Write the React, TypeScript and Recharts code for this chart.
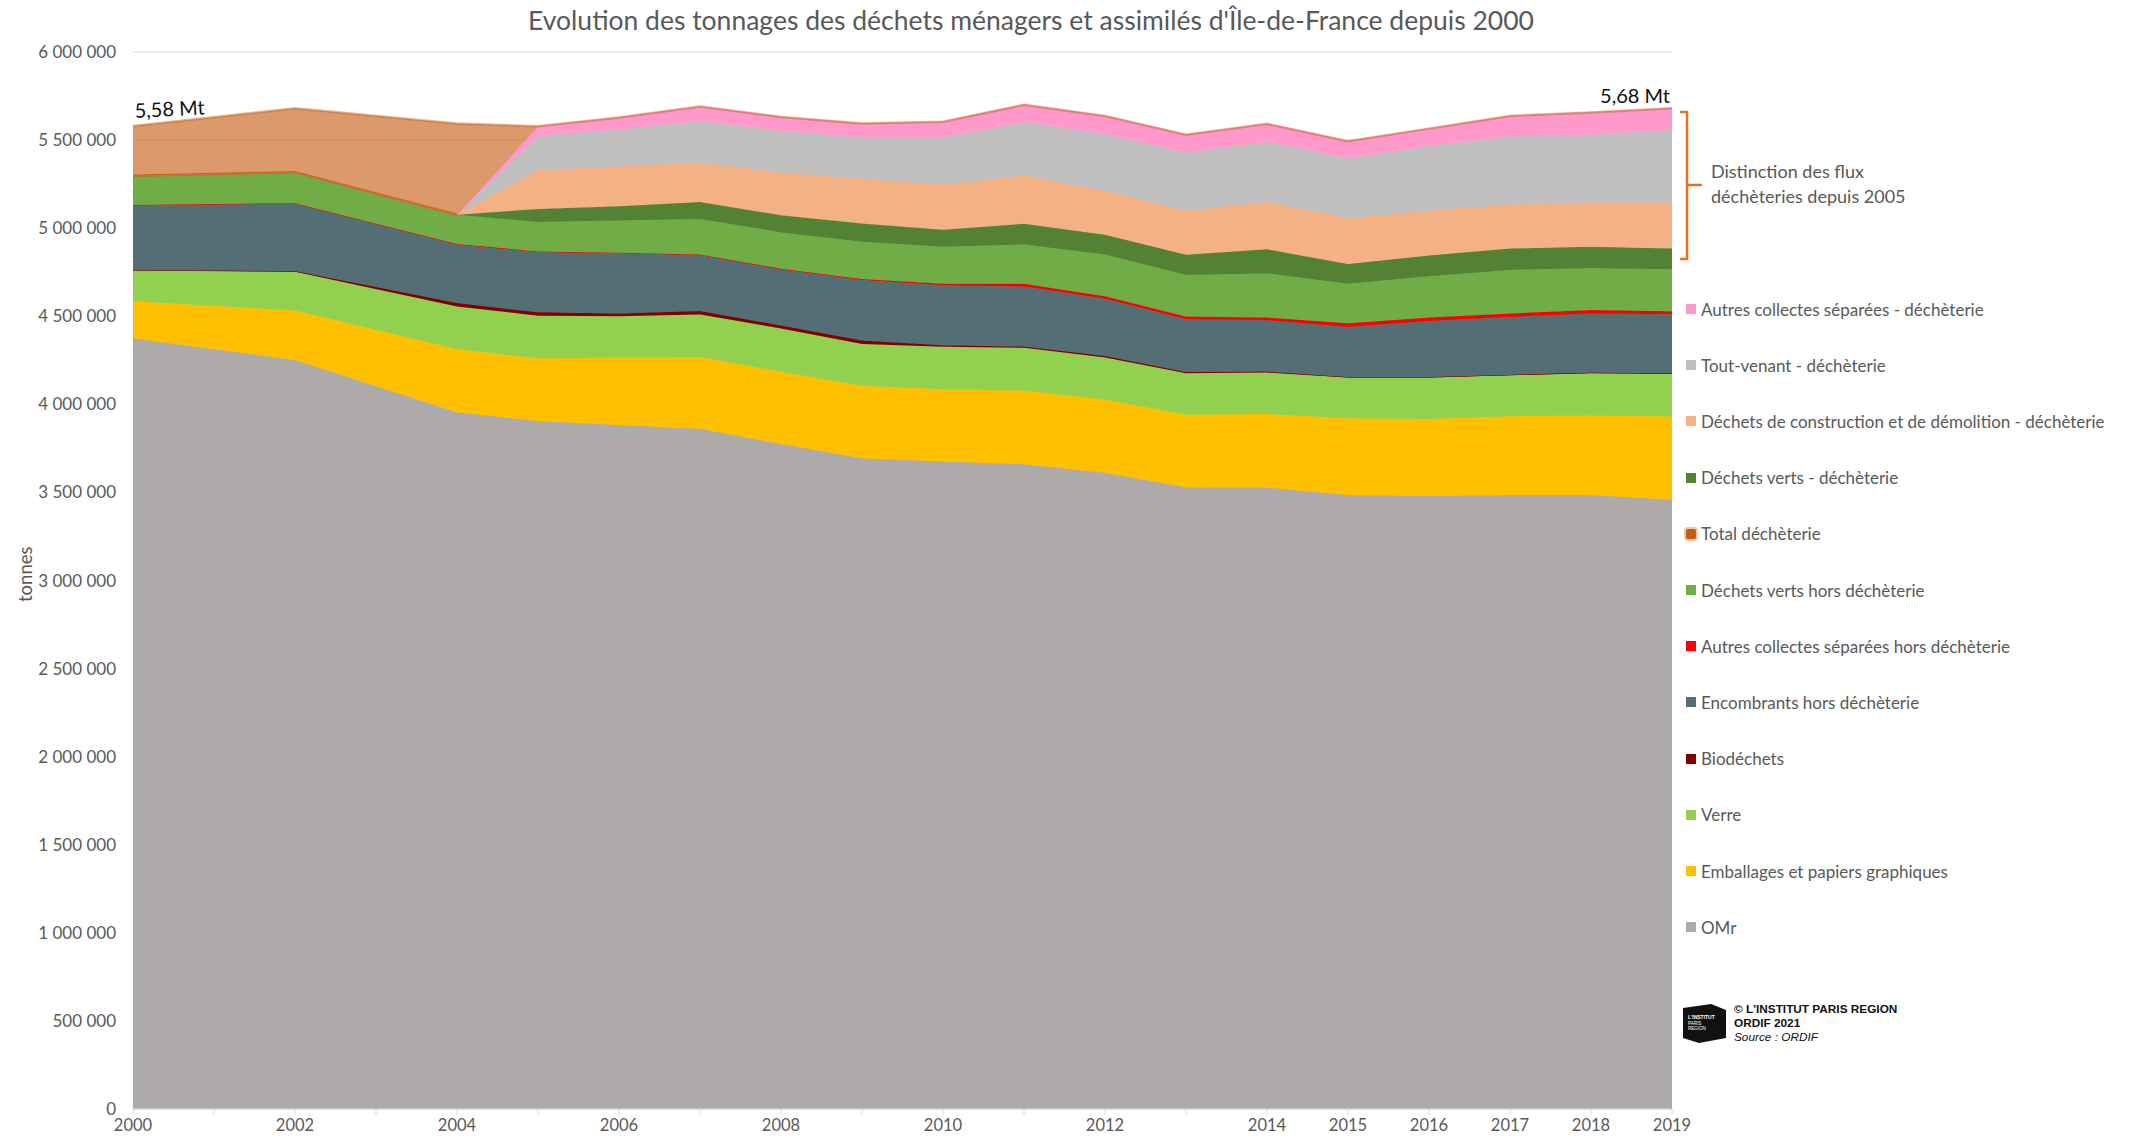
import React from 'react';
import { ComposedChart, Area, Line, XAxis, YAxis, CartesianGrid, LabelList } from 'recharts';

// années présentes dans la série (2001 et 2003 absentes)
const years = [2000, 2002, 2004, 2005, 2006, 2007, 2008, 2009, 2010, 2011, 2012, 2013, 2014, 2015, 2016, 2017, 2018, 2019];

// tonnages (t)
const omr = [4375000, 4252000, 3955000, 3906000, 3882000, 3862000, 3775000, 3694000, 3675000, 3660000, 3612000, 3530000, 3528000, 3485000, 3480000, 3485000, 3485000, 3459000];
const emballages = [210000, 280000, 358000, 355000, 382000, 406000, 410000, 411000, 410000, 418000, 415000, 411000, 417000, 436000, 437000, 448000, 452000, 472000];
const verre = [175000, 220000, 242000, 242000, 236000, 242000, 245000, 237000, 242000, 243000, 239000, 235000, 235000, 231000, 235000, 232000, 240000, 242000];
const biodechets = [3000, 5000, 20000, 19000, 16000, 20000, 18000, 20000, 9000, 7000, 8000, 8000, 6000, 3000, 3000, 3000, 3000, 3000];
const encombrants = [367000, 383000, 332000, 343000, 342000, 317000, 317000, 344000, 340000, 341000, 326000, 299000, 291000, 284000, 318000, 328000, 336000, 336000];
const autresHors = [2000, 2000, 3000, 3000, 3000, 4000, 5000, 6000, 9000, 16000, 14000, 16000, 16000, 21000, 20000, 20000, 20000, 16000];
const vertsHors = [166000, 176000, 166000, 167000, 183000, 201000, 206000, 211000, 209000, 222000, 237000, 235000, 250000, 225000, 234000, 247000, 237000, 239000];
const vertsDech = [0, 0, 0, 74000, 81000, 96000, 98000, 104000, 97000, 118000, 111000, 115000, 137000, 111000, 118000, 121000, 121000, 117000];
const constructionDech = [0, 0, 0, 221000, 225000, 225000, 241000, 253000, 255000, 274000, 249000, 250000, 268000, 260000, 254000, 251000, 251000, 261000];
const toutVenantDech = [0, 0, 0, 194000, 209000, 235000, 238000, 234000, 268000, 303000, 323000, 329000, 343000, 341000, 368000, 385000, 385000, 414000];
const autresDech = [0, 0, 0, 54000, 69000, 82000, 78000, 80000, 90000, 98000, 103000, 102000, 101000, 97000, 98000, 117000, 127000, 121000];
const totalDech = [282000, 362000, 518000, 0, 0, 0, 0, 0, 0, 0, 0, 0, 0, 0, 0, 0, 0, 0];

const xTicks = [2000, 2001, 2002, 2003, 2004, 2005, 2006, 2007, 2008, 2009, 2010, 2011, 2012, 2013, 2014, 2015, 2016, 2017, 2018, 2019];
const xLabels = [2000, 2002, 2004, 2006, 2008, 2010, 2012, 2014, 2015, 2016, 2017, 2018, 2019];
const yTicks = [0, 500000, 1000000, 1500000, 2000000, 2500000, 3000000, 3500000, 4000000, 4500000, 5000000, 5500000, 6000000];

// ordre d'empilement, du bas vers le haut
const series = [
  { key: 'omr', name: 'OMr', color: '#AEAAAA', values: omr },
  { key: 'emballages', name: 'Emballages et papiers graphiques', color: '#FFC000', values: emballages },
  { key: 'verre', name: 'Verre', color: '#92D050', values: verre },
  { key: 'biodechets', name: 'Biodéchets', color: '#800000', values: biodechets },
  { key: 'encombrants', name: 'Encombrants hors déchèterie', color: '#546E76', values: encombrants },
  { key: 'autresHors', name: 'Autres collectes séparées hors déchèterie', color: '#FF0000', values: autresHors },
  { key: 'vertsHors', name: 'Déchets verts hors déchèterie', color: '#70AD47', values: vertsHors },
  { key: 'vertsDech', name: 'Déchets verts - déchèterie', color: '#548235', values: vertsDech },
  { key: 'constructionDech', name: 'Déchets de construction et de démolition - déchèterie', color: '#F4B183', values: constructionDech },
  { key: 'toutVenantDech', name: 'Tout-venant - déchèterie', color: '#BFBFBF', values: toutVenantDech },
  { key: 'autresDech', name: 'Autres collectes séparées - déchèterie', color: '#FF99CC', values: autresDech },
];
const totalSeries = { key: 'totalDech', name: 'Total déchèterie', color: '#C55A11', values: totalDech };

const legendOrder = ['autresDech', 'toutVenantDech', 'constructionDech', 'vertsDech', 'totalDech', 'vertsHors', 'autresHors', 'encombrants', 'biodechets', 'verre', 'emballages', 'omr'];

const data = years.map((year, i) => {
  const row: Record<string, number | null> = { year };
  let sum = 0;
  series.forEach((s) => {
    row[s.key] = s.values[i];
    sum += s.values[i];
  });
  row.totalDech = totalDech[i];
  row.total = sum + totalDech[i];
  // bord inférieur de la zone "Total déchèterie" (avant la distinction des flux)
  row.totalBase = totalDech[i] > 0 ? sum : null;
  return row;
});

const fmt = (v: number) => String(v).replace(/\B(?=(\d{3})+(?!\d))/g, ' ');
const mt = (v: number) => (v / 1000000).toFixed(2).replace('.', ',') + ' Mt';

const font = 'Lato, "Open Sans", sans-serif';
const grey = '#595959';

const TotalLabel = (props: any) => {
  const vb = props.viewBox || {};
  const x = vb.x ?? props.x;
  const y = vb.y ?? props.y;
  const i = props.index;
  if (i === 0) {
    return (
      <text x={x + 2} y={y - 8} fontSize={20} fill="#111" fontFamily={font} transform={`rotate(-3 ${x + 2} ${y - 8})`}>
        {mt(data[0].total as number)}
      </text>
    );
  }
  if (i === data.length - 1) {
    return (
      <text x={x - 2} y={y - 5} fontSize={20} fill="#111" fontFamily={font} textAnchor="end">
        {mt(data[i].total as number)}
      </text>
    );
  }
  return null;
};

export default function App() {
  const allSeries = [...series, totalSeries];
  return (
    <div style={{ position: 'absolute', left: 0, top: 0, width: 2134, height: 1140, background: '#fff', fontFamily: font }}>
      <div style={{ position: 'absolute', left: 0, top: 4, width: 2062, textAlign: 'center', fontSize: 26.5, color: grey }}>
        Evolution des tonnages des déchets ménagers et assimilés d'Île-de-France depuis 2000
      </div>
      <div style={{ position: 'absolute', left: 0, top: 566, width: 50, textAlign: 'center', fontSize: 18.5, color: grey, transform: 'rotate(-90deg)' }}>
        tonnes
      </div>

      <ComposedChart width={2134} height={1140} data={data} margin={{ top: 52, right: 462, left: 33, bottom: 0 }}>
        <CartesianGrid vertical={false} stroke="#D9D9D9" />
        <XAxis
          dataKey="year"
          type="number"
          domain={[2000, 2019]}
          ticks={xTicks}
          interval={0}
          tickFormatter={(v: number) => (xLabels.includes(v) ? String(v) : '')}
          height={31}
          tickSize={6}
          tickMargin={4}
          stroke="#D9D9D9"
          tick={{ fill: grey, fontSize: 16.5, fontFamily: font }}
        />
        <YAxis
          type="number"
          domain={[0, 6000000]}
          ticks={yTicks}
          interval={0}
          width={100}
          axisLine={false}
          tickLine={false}
          tickSize={6}
          tickMargin={11}
          tickFormatter={fmt}
          tick={{ fill: grey, fontSize: 17, fontFamily: font }}
        />
        {series.map((s) => (
          <Area
            key={s.key}
            type="linear"
            dataKey={s.key}
            name={s.name}
            stackId="1"
            fill={s.color}
            fillOpacity={1}
            stroke={s.color}
            strokeWidth={1}
            isAnimationActive={false}
          />
        ))}
        <Area
          type="linear"
          dataKey="totalDech"
          name={totalSeries.name}
          stackId="1"
          fill={totalSeries.color}
          fillOpacity={0.62}
          stroke={totalSeries.color}
          strokeOpacity={0.45}
          strokeWidth={2.5}
          isAnimationActive={false}
        >
          <LabelList dataKey="totalDech" content={TotalLabel} />
        </Area>
        <Line
          type="linear"
          dataKey="totalBase"
          stroke={totalSeries.color}
          strokeOpacity={0.65}
          strokeWidth={2.5}
          dot={false}
          activeDot={false}
          legendType="none"
          isAnimationActive={false}
        />
      </ComposedChart>

      <svg style={{ position: 'absolute', left: 0, top: 0 }} width={2134} height={1140}>
        <path d="M1680 112 H1687 V259 H1680 M1687 185 H1702" fill="none" stroke="#E8731E" strokeWidth={2.5} />
        <g transform="translate(1683 1004)">
          <polygon points="0,4 28,0 43,6 43,34 16,39 0,34" fill="#111" />
          <text x={5} y={15} fontSize={5} fill="#fff" fontFamily="Liberation Sans" fontWeight="bold">L'INSTITUT</text>
          <text x={5} y={21} fontSize={4.5} fill="#fff" fontFamily="Liberation Sans">PARIS</text>
          <text x={5} y={26} fontSize={4.5} fill="#fff" fontFamily="Liberation Sans">REGION</text>
        </g>
      </svg>

      <div style={{ position: 'absolute', left: 1711, top: 159, fontSize: 18, lineHeight: '25px', color: grey }}>
        Distinction des flux
        <br />
        déchèteries depuis 2005
      </div>

      {legendOrder.map((key, i) => {
        const s = allSeries.find((x) => x.key === key)!;
        const isTotal = key === 'totalDech';
        return (
          <div key={key} style={{ position: 'absolute', left: 1686, top: 309 + i * 56.2 - 11, height: 22, display: 'flex', alignItems: 'center' }}>
            <span
              style={{
                display: 'inline-block',
                width: 10,
                height: 10,
                background: s.color,
                boxShadow: isTotal ? '0 0 0 2px rgba(197,90,17,0.35)' : 'none',
                borderRadius: isTotal ? 2 : 0,
                marginRight: 5,
              }}
            />
            <span style={{ fontSize: 17, color: grey, whiteSpace: 'nowrap' }}>{s.name}</span>
          </div>
        );
      })}

      <div style={{ position: 'absolute', left: 1734, top: 1002, fontFamily: '"Liberation Sans", Arial, sans-serif', fontSize: 11.8, lineHeight: '14px', color: '#111' }}>
        <div style={{ fontWeight: 'bold' }}>© L'INSTITUT PARIS REGION</div>
        <div style={{ fontWeight: 'bold' }}>ORDIF 2021</div>
        <div style={{ fontStyle: 'italic' }}>Source : ORDIF</div>
      </div>
    </div>
  );
}
